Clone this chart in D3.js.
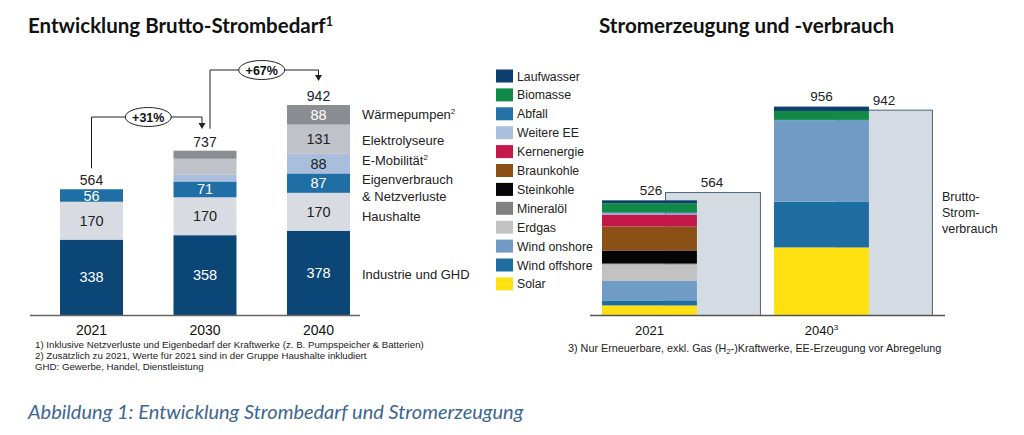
<!DOCTYPE html>
<html><head><meta charset="utf-8">
<script src="https://cdn.jsdelivr.net/npm/d3@7/dist/d3.min.js"></script>
<style>
html,body{margin:0;padding:0;background:#fff;}
svg{display:block;}
</style></head>
<body>
<svg id="c" width="1024" height="435"></svg>
<script>
// ---------- data: left chart ----------
const leftCats = ["2021", "2030", "2040"];
const leftTotals = [564, 737, 942];
const industrie = [338, 358, 378];
const haushalte = [170, 170, 170];
const eigenverbrauch = [56, 71, 87];
const eMobilitaet = [0, 30, 88];
const elektrolyse = [0, 72, 131];
const waermepumpen = [0, 36, 88];
const leftSeriesNames = ["Industrie und GHD", "Haushalte", "Eigenverbrauch & Netzverluste", "E-Mobilität", "Elektrolyseure", "Wärmepumpen"];
const leftShowLabel = [[1,1,1],[1,1,1],[1,1,1],[0,0,1],[0,0,1],[0,0,1]];
const growthLabels = ["+31%", "+67%"];

// ---------- data: right chart ----------
const rightCats = ["2021", "2040"];
const genSeries = ["Laufwasser","Biomasse","Abfall","Weitere EE","Kernenergie","Braunkohle","Steinkohle","Mineralöl","Erdgas","Wind onshore","Wind offshore","Solar"];
const laufwasser = [13, 20];
const biomasse = [42, 41];
const abfall = [5, 2];
const weitereEE = [5, 0];
const kernenergie = [55, 0];
const braunkohle = [110, 0];
const steinkohle = [60, 0];
const mineraloel = [4, 0];
const erdgas = [76, 0];
const windOnshore = [89, 373];
const windOffshore = [23, 210];
const solar = [44, 310];
const genTotals = [526, 956];
const verbrauch = [564, 942];

const svg = d3.select("#c");
const F = "'Liberation Sans', Arial, sans-serif";
const FT = "Lato, 'Open Sans', sans-serif";

// ---------- titles ----------
const t1 = svg.append("text").attr("x", 28).attr("y", 33).attr("font-family", FT).attr("font-weight", 700).attr("font-size", 20.5).attr("fill", "#111");
t1.append("tspan").text("Entwicklung Brutto-Strombedarf");
t1.append("tspan").attr("dy", -7).attr("font-size", 12.5).text("1");
svg.append("text").attr("x", 599).attr("y", 33).attr("font-family", FT).attr("font-weight", 700).attr("font-size", 20.6).attr("fill", "#111").text("Stromerzeugung und -verbrauch");

// ---------- left chart ----------
const lx = d3.scaleBand().domain(leftCats).range([9.5, 400.5]).paddingInner(0.445).paddingOuter(0.445);
const ly = d3.scaleLinear().domain([0, 942]).range([315, 105]);
const leftCols = ["#0b4677", "#d8dce2", "#1f6ea5", "#a8bedc", "#bfc3c9", "#8a8d92"];
const leftText = ["#fff", "#222", "#fff", "#222", "#222", "#fff"];
const leftVals = [industrie, haushalte, eigenverbrauch, eMobilitaet, elektrolyse, waermepumpen];
const leftRows = leftCats.map((c, i) => { const o = {cat: c}; leftSeriesNames.forEach((s, j) => o[s] = leftVals[j][i]); return o; });
const lstack = d3.stack().keys(leftSeriesNames)(leftRows);
const lg = svg.append("g");
lstack.forEach((layer, si) => {
  layer.forEach((d, ci) => {
    const v = d[1] - d[0];
    if (v <= 0) return;
    lg.append("rect").attr("x", lx(leftCats[ci])).attr("width", lx.bandwidth())
      .attr("y", ly(d[1])).attr("height", ly(d[0]) - ly(d[1])).attr("fill", leftCols[si]);
    if (leftShowLabel[si][ci]) {
      lg.append("text").attr("x", lx(leftCats[ci]) + lx.bandwidth() / 2).attr("y", (ly(d[0]) + ly(d[1])) / 2 + 5)
        .attr("text-anchor", "middle").attr("font-family", F).attr("font-size", 14.5).attr("fill", leftText[si]).text(v);
    }
  });
});
// totals
leftCats.forEach((c, i) => {
  lg.append("text").attr("x", lx(c) + lx.bandwidth() / 2).attr("y", ly(leftTotals[i]) - 4)
    .attr("text-anchor", "middle").attr("font-family", F).attr("font-size", 14).attr("fill", "#222").text(leftTotals[i]);
  lg.append("text").attr("x", lx(c) + lx.bandwidth() / 2).attr("y", 335)
    .attr("text-anchor", "middle").attr("font-family", F).attr("font-size", 14).attr("fill", "#111").text(c);
});
// baseline
lg.append("line").attr("x1", 30).attr("x2", 360).attr("y1", 315.5).attr("y2", 315.5).attr("stroke", "#666").attr("stroke-width", 1.5);

// series labels
const lblX = lx("2040") + lx.bandwidth() + 12;
const lblItems = [
  {t: ["Wärmepumpen"], sup: "2", y: 119},
  {t: ["Elektrolyseure"], y: 145},
  {t: ["E-Mobilität"], sup: "2", y: 165},
  {t: ["Eigenverbrauch", "& Netzverluste"], y: 184},
  {t: ["Haushalte"], y: 221},
  {t: ["Industrie und GHD"], y: 279}
];
lblItems.forEach(it => {
  it.t.forEach((line, k) => {
    const tx = lg.append("text").attr("x", lblX).attr("y", it.y + k * 17).attr("font-family", F).attr("font-size", 13).attr("fill", "#222");
    tx.append("tspan").text(line);
    if (it.sup && k === 0) tx.append("tspan").attr("dy", -5).attr("font-size", 8).text(it.sup);
  });
});

// growth annotations
const cx = c => lx(c) + lx.bandwidth() / 2;
const ann = svg.append("g").attr("fill", "none").attr("stroke", "#222").attr("stroke-width", 1);
function arrowHead(x, y) {
  svg.append("path").attr("d", `M${x - 3.5},${y - 6}L${x + 3.5},${y - 6}L${x},${y}Z`).attr("fill", "#222");
}
// +31%
const a1y = 117;
ann.append("path").attr("d", `M${cx("2021")},${ly(564) - 21}V${a1y}H${cx("2030") - 3}V${a1y + 6}`);
arrowHead(cx("2030") - 3, 129);
// +67%
const a2y = 70;
ann.append("path").attr("d", `M${cx("2030") + 5},${ly(737) - 22}V${a2y}H${cx("2040")}V${a2y + 5}`);
arrowHead(cx("2040"), 81);
[[ (cx("2021") + cx("2030")) / 2 + 0, a1y, growthLabels[0]], [ (cx("2030") + cx("2040")) / 2, a2y, growthLabels[1]]].forEach(([x, y, t]) => {
  svg.append("ellipse").attr("cx", x).attr("cy", y).attr("rx", 23).attr("ry", 9.5).attr("fill", "#fff").attr("stroke", "#222").attr("stroke-width", 1);
  svg.append("text").attr("x", x).attr("y", y + 4.5).attr("text-anchor", "middle").attr("font-family", F).attr("font-weight", 700).attr("font-size", 12.5).attr("fill", "#111").text(t);
});

// footnotes left
const fn = ["1) Inklusive Netzverluste und Eigenbedarf der Kraftwerke (z. B. Pumpspeicher & Batterien)",
            "2) Zusätzlich zu 2021, Werte für 2021 sind in der Gruppe Haushalte  inkludiert",
            "GHD: Gewerbe, Handel, Dienstleistung"];
fn.forEach((t, i) => svg.append("text").attr("x", 35).attr("y", 348 + i * 11).attr("font-family", F).attr("font-size", 9.7).attr("fill", "#222").text(t));

// caption
svg.append("text").attr("x", 28).attr("y", 419).attr("font-family", FT).attr("font-style", "italic").attr("font-size", 20).attr("fill", "#3d6690")
  .text("Abbildung 1: Entwicklung Strombedarf und Stromerzeugung");

// ---------- right chart ----------
const rx = d3.scaleBand().domain(rightCats).range([567.6, 903.3]).paddingInner(0.448).paddingOuter(0.2);
const ry = d3.scaleLinear().domain([0, 956]).range([315, 106.6]);
const genCols = {"Laufwasser":"#0d3f6e","Biomasse":"#108a46","Abfall":"#2471a8","Weitere EE":"#a7bfdc","Kernenergie":"#c4184b","Braunkohle":"#8b5015","Steinkohle":"#050505","Mineralöl":"#808080","Erdgas":"#c2c2c2","Wind onshore":"#6f9bc4","Wind offshore":"#1f6ea2","Solar":"#ffe012"};
const genVals = {"Laufwasser":laufwasser,"Biomasse":biomasse,"Abfall":abfall,"Weitere EE":weitereEE,"Kernenergie":kernenergie,"Braunkohle":braunkohle,"Steinkohle":steinkohle,"Mineralöl":mineraloel,"Erdgas":erdgas,"Wind onshore":windOnshore,"Wind offshore":windOffshore,"Solar":solar};
const stackOrder = genSeries.slice().reverse();
const rRows = rightCats.map((c, i) => { const o = {cat: c}; genSeries.forEach(s => o[s] = genVals[s][i]); return o; });
const rstack = d3.stack().keys(stackOrder)(rRows);
const rg = svg.append("g");
const consOff = 63;
// consumption bars (behind)
rightCats.forEach((c, i) => {
  rg.append("rect").attr("x", rx(c) + consOff + 0.5).attr("width", rx.bandwidth()).attr("y", ry(verbrauch[i]) + 0.5)
    .attr("height", ry(0) - ry(verbrauch[i])).attr("fill", "#d5dbe3").attr("stroke", "#4d6477").attr("stroke-width", 1);
});
rstack.forEach(layer => {
  layer.forEach((d, ci) => {
    if (d[1] - d[0] <= 0) return;
    rg.append("rect").attr("x", rx(rightCats[ci])).attr("width", rx.bandwidth()).attr("y", ry(d[1]))
      .attr("height", ry(d[0]) - ry(d[1])).attr("fill", genCols[layer.key]);
  });
});
rg.append("line").attr("x1", 590).attr("x2", 945).attr("y1", 315.5).attr("y2", 315.5).attr("stroke", "#555").attr("stroke-width", 1.5);
// value labels
rg.append("text").attr("x", rx("2021") + 49).attr("y", ry(genTotals[0]) - 5).attr("text-anchor", "middle").attr("font-family", F).attr("font-size", 13.5).attr("fill", "#222").text(genTotals[0]);
rg.append("text").attr("x", rx("2021") + consOff + 47).attr("y", ry(verbrauch[0]) - 5).attr("text-anchor", "middle").attr("font-family", F).attr("font-size", 13.5).attr("fill", "#222").text(verbrauch[0]);
rg.append("text").attr("x", rx("2040") + rx.bandwidth() / 2).attr("y", ry(genTotals[1]) - 6).attr("text-anchor", "middle").attr("font-family", F).attr("font-size", 13.5).attr("fill", "#222").text(genTotals[1]);
rg.append("text").attr("x", rx("2040") + consOff + 47).attr("y", ry(verbrauch[1]) - 5).attr("text-anchor", "middle").attr("font-family", F).attr("font-size", 13.5).attr("fill", "#222").text(verbrauch[1]);
// category labels
rightCats.forEach((c, i) => {
  const t = rg.append("text").attr("x", rx(c) + rx.bandwidth() / 2).attr("y", 335).attr("text-anchor", "middle").attr("font-family", F).attr("font-size", 13).attr("fill", "#111");
  t.append("tspan").text(c);
  if (i === 1) t.append("tspan").attr("dy", -5).attr("font-size", 8).text("3");
});
// Brutto-Stromverbrauch label
["Brutto-", "Strom-", "verbrauch"].forEach((t, i) => rg.append("text").attr("x", 942).attr("y", 201 + i * 16).attr("font-family", F).attr("font-size", 12.5).attr("fill", "#222").text(t));
// legend
const leg = svg.append("g");
genSeries.forEach((s, i) => {
  const y = 76 + i * 18.9;
  leg.append("rect").attr("x", 496).attr("y", y - 6.5).attr("width", 17).attr("height", 13).attr("fill", genCols[s]);
  leg.append("text").attr("x", 517).attr("y", y + 4.5).attr("font-family", F).attr("font-size", 12.3).attr("fill", "#222").text(s);
});
// footnote right
const f3 = svg.append("text").attr("x", 568).attr("y", 352).attr("font-family", F).attr("font-size", 10.8).attr("fill", "#222");
f3.append("tspan").text("3) Nur Erneuerbare, exkl. Gas (H");
f3.append("tspan").attr("dy", 2).attr("font-size", 7.5).text("2");
f3.append("tspan").attr("dy", -2).text("-)Kraftwerke,  EE-Erzeugung vor Abregelung");
</script>
</body></html>
